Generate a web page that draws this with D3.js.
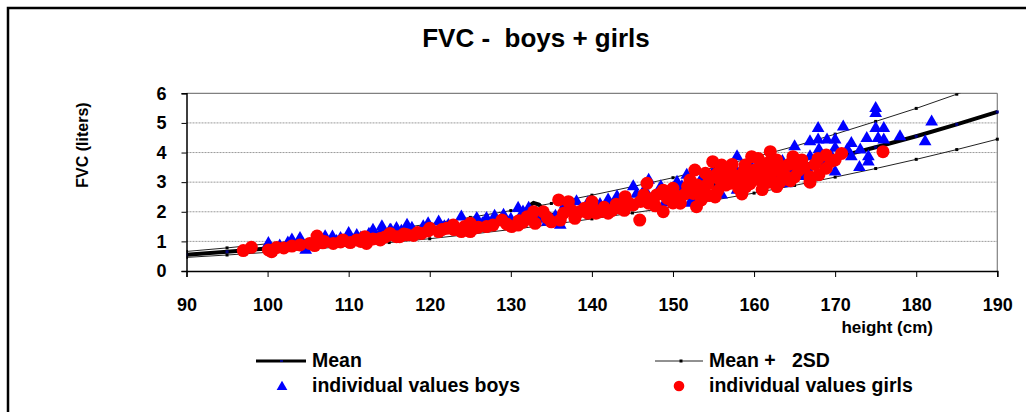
<!DOCTYPE html>
<html><head><meta charset="utf-8">
<script src="https://cdn.jsdelivr.net/npm/d3@7"></script>
<style>
html,body{margin:0;padding:0;background:#fff;}
svg{display:block;font-family:"Liberation Sans",Arial,sans-serif;font-weight:bold;}
text{white-space:pre;}
</style></head>
<body>
<svg id="chart" width="1026" height="412"></svg>
<script>
// ---- data ----
const titleText = "FVC -  boys + girls";
const yTitle = "FVC (liters)";
const xTitle = "height (cm)";
const xTicks = [90,100,110,120,130,140,150,160,170,180,190];
const yTicks = [0,1,2,3,4,5,6];

const sdHeights = [90,95,100,105,110,115,120,125,130,135,140,145,150,155,160,165,170,175,180,185,190];
const upperSD = [0.66,0.78,0.92,1.06,1.22,1.40,1.59,1.81,2.04,2.28,2.56,2.85,3.15,3.49,3.84,4.21,4.62,5.05,5.49,5.97,6.48];
const lowerSD = [0.46,0.54,0.63,0.73,0.84,0.96,1.09,1.24,1.40,1.57,1.76,1.96,2.16,2.39,2.63,2.89,3.17,3.46,3.77,4.10,4.45];

const meanHeights = [90,95,100,105,110,115,120,125,130,131.6,132.2,132.8,133.5,134,135,140,145,150,155,160,165,170,175,180,185,190];
const meanValues  = [0.55,0.65,0.76,0.88,1.01,1.16,1.32,1.50,1.69,1.88,2.18,2.30,2.24,2.05,1.89,2.12,2.36,2.61,2.89,3.18,3.49,3.83,4.18,4.55,4.95,5.37];

const boysHeight = [100.1,101.5,103,104,104.7,105.5,106.5,107.1,108.5,110,110.8,111.5,113,114.1,115.1,115.9,115.2,117.2,118,119.2,120.3,121.1,122.3,123,123.9,124.8,125.8,127,128.3,129.1,130.9,132.2,133.5,134.5,136.1,136.7,138.1,139,140.2,141.2,142,143.1,144,145.1,146,147,148,149,150,151.1,151.7,152.1,152.7,152.9,154.2,154.9,156,157,157.9,157.9,157.9,159,160.3,161,162,163,164,165,165,166,166.9,166.9,167.9,167.9,168.5,169,170,170,170,171,172,172,173.1,173.9,174.1,174.1,175,175,175,175.3,176,176,178,181.1,181.9,
  102.5,106,108,109,111,112.5,114,116.5,117.8,119.8,121.8,126.5,128,130,131.5,133,135.5,137.2,139.5,141,143.8,145.5,146.5,148.5,149.5,150.5,153.5,155.5,156.5,158.5,159.5,161.5,163.5,164.5,166.5,168,169.5,171.5,173];
const boysFVC = [0.93,0.85,1.05,1.10,0.71,0.95,1.02,1.16,1.00,1.27,1.05,1.12,1.38,1.50,1.38,1.44,1.38,1.55,1.33,1.50,1.40,1.66,1.55,1.42,1.83,1.45,1.78,1.78,1.66,1.89,2.12,2.12,1.75,1.65,1.55,2.23,2.34,1.95,2.29,2.05,2.40,2.51,2.20,2.85,2.40,3.07,2.57,2.30,2.79,2.85,3.24,2.29,2.40,2.73,2.51,3.30,2.57,3.00,3.86,3.35,2.73,3.10,3.52,2.90,3.07,3.30,2.95,4.20,3.52,3.20,4.37,3.86,4.82,4.43,3.60,4.43,4.43,4.15,3.35,4.87,4.31,3.86,4.09,4.48,3.86,3.69,5.49,5.32,4.82,4.48,4.82,4.43,4.54,4.37,5.04,
  0.95,1.10,1.15,1.10,1.20,1.25,1.30,1.35,1.45,1.60,1.50,1.60,1.85,1.75,2.00,1.95,1.85,2.10,2.30,2.25,2.45,2.60,2.75,2.85,2.60,3.00,3.10,2.80,3.40,2.90,3.60,3.30,3.70,3.40,3.50,4.10,3.90,4.10,3.50];

const girlsHeight = [97,98,100.1,100.5,101.1,103,105.2,105.8,106.1,107,108.1,109.3,110.2,111,112,112.2,113.9,113.9,115.1,115.1,115.9,116.3,117.2,118,119,120,121.1,122.1,122.9,123.9,124.3,125,125,125.5,127,128.9,130.1,130.9,131.5,132,132.8,133,134,135,135.9,136.1,137.1,137.9,138.5,139.1,140,140,140.5,141,142,142.5,143.5,144.1,144.5,145.1,145.9,146.4,146.8,147,147.5,148,148.8,148.8,149.3,150,150,150.9,150.9,151.5,152.1,152.5,152.7,152.9,153,153.5,153.7,154,154.3,154.9,154.9,155.2,155.5,155.8,156,156.5,156.8,157,157.3,157.5,158.1,158.1,158.5,158.9,159.1,159.5,159.7,159.8,160.1,160.5,160.7,161,161.2,161.6,162,162,162.3,162.8,162.8,162.8,163.2,163.6,164,164.3,164.8,165,165.5,165.9,166.9,166.9,167.9,168.9,168.9,170,170.8,175.9,
  102,104,106.8,109,111.5,113,114.5,116.8,118.5,119.8,121.5,123,124.8,126,127.8,129.5,131,134.5,136.5,137.5,139.5,141.5,143,144,146,147.8,149,150.5,151.8,153.2,154.5,156.2,157.8,158.8,160.3,161.8,163.5,164.5,165.2,166.2,167.5,168,169.5,161,159,155.5];
const girlsFVC = [0.69,0.80,0.71,0.65,0.79,0.84,0.93,0.86,1.18,1.00,0.93,1.05,0.96,1.05,1.16,0.93,1.10,1.05,1.27,1.22,1.16,1.16,1.22,1.20,1.27,1.44,1.33,1.44,1.55,1.33,1.50,1.61,1.33,1.45,1.50,1.72,1.50,1.55,1.65,1.83,2.00,1.61,2.00,1.66,2.40,1.72,2.34,1.78,2.00,2.12,2.17,2.34,1.95,2.00,1.95,2.05,2.12,2.51,2.30,2.23,1.72,2.57,2.96,2.29,2.45,2.57,2.73,2.00,2.45,2.79,2.30,2.29,2.51,2.60,3.07,2.62,3.41,2.17,2.90,2.40,2.73,3.30,2.95,3.69,3.18,2.50,2.70,3.07,3.58,2.90,3.41,2.96,3.60,3.25,3.13,2.79,2.60,3.58,3.18,2.95,3.86,3.30,3.41,3.80,3.07,2.75,3.30,3.64,4.03,3.18,3.55,3.75,2.85,3.41,3.00,3.52,3.18,3.60,3.86,3.18,3.40,3.75,3.18,3.00,3.80,3.92,3.47,3.75,3.97,4.03,
  0.78,0.88,0.95,0.98,1.00,1.08,1.15,1.25,1.30,1.35,1.40,1.40,1.42,1.48,1.55,1.58,1.70,1.80,1.95,2.05,1.95,2.15,2.25,2.05,2.35,2.20,2.60,2.45,2.85,2.60,2.55,3.20,2.95,3.40,3.15,3.00,3.25,3.05,3.60,3.50,3.60,3.25,3.70,3.50,2.85,3.30];

const legendLabels = ["Mean","Mean +   2SD","individual values boys","individual values girls"];

// ---- drawing ----
const svg = d3.select("#chart");
const L = 186.5, R = 997.3, T = 93.3, B = 271;
const x = d3.scaleLinear().domain([90,190]).range([L,R]);
const y = d3.scaleLinear().domain([0,6]).range([B,T]);

// outer frame
svg.append("rect").attr("x",8).attr("y",8).attr("width",1040).attr("height",430)
  .attr("fill","#fff").attr("stroke","#000").attr("stroke-width",2.5);

// title
svg.append("text").attr("x",536).attr("y",47).attr("text-anchor","middle")
  .attr("font-size",26).text(titleText);

// gridlines
svg.append("g").selectAll("line").data(yTicks.filter(d=>d>0 && d<6)).join("line")
  .attr("x1",L).attr("x2",R).attr("y1",d=>y(d)).attr("y2",d=>y(d))
  .attr("stroke","#9a9a9a").attr("stroke-width",1).attr("stroke-dasharray","2,1");
svg.append("line").attr("x1",L).attr("x2",R).attr("y1",T).attr("y2",T).attr("stroke","#808080").attr("stroke-width",1.2);
svg.append("line").attr("x1",R).attr("x2",R).attr("y1",T).attr("y2",B).attr("stroke","#808080").attr("stroke-width",1.2);

// clip
svg.append("clipPath").attr("id","clip").append("rect").attr("x",L).attr("y",T).attr("width",R-L+2).attr("height",B-T);
const plot = svg.append("g").attr("clip-path","url(#clip)");

const line = d3.line().x(d=>x(d[0])).y(d=>y(d[1]));
const upperPts = sdHeights.map((h,i)=>[h,upperSD[i]]);
const lowerPts = sdHeights.map((h,i)=>[h,lowerSD[i]]);
const meanPts = meanHeights.map((h,i)=>[h,meanValues[i]]);

[upperPts,lowerPts].forEach(pts=>{
  plot.append("path").attr("d",line(pts)).attr("fill","none").attr("stroke","#222").attr("stroke-width",1);
  plot.append("g").selectAll("rect").data(pts).join("rect")
    .attr("x",d=>x(d[0])-1.5).attr("y",d=>y(d[1])-1.5).attr("width",3).attr("height",3).attr("fill","#000");
});
plot.append("path").attr("d",line(meanPts)).attr("fill","none").attr("stroke","#000").attr("stroke-width",4).attr("stroke-linejoin","round");
plot.append("g").selectAll("rect").data(sdHeights.map(h=>[h,meanValues[meanHeights.indexOf(h)]])).join("rect")
  .attr("x",d=>x(d[0])-1.5).attr("y",d=>y(d[1])-1.5).attr("width",3).attr("height",3).attr("fill","#000080");

// boys triangles
const tri = d3.symbol().type(d3.symbolTriangle).size(70);
svg.append("g").selectAll("path").data(boysHeight.map((h,i)=>[h,boysFVC[i]])).join("path")
  .attr("d",tri).attr("transform",d=>`translate(${x(d[0])},${y(d[1])})`).attr("fill","#0000ff");
// girls circles
svg.append("g").selectAll("circle").data(girlsHeight.map((h,i)=>[h,girlsFVC[i]])).join("circle")
  .attr("cx",d=>x(d[0])).attr("cy",d=>y(d[1])).attr("r",6.5).attr("fill","#ff0000");

// axes
const yAxis = svg.append("g").attr("transform",`translate(${L},0)`)
  .call(d3.axisLeft(y).tickValues(yTicks).tickSize(5).tickPadding(15).tickFormat(d3.format("d")));
const xAxis = svg.append("g").attr("transform",`translate(0,${B})`)
  .call(d3.axisBottom(x).tickValues(xTicks).tickSize(6).tickPadding(21).tickFormat(d3.format("d")));
[yAxis,xAxis].forEach(a=>{
  a.select(".domain").attr("stroke","#000").attr("stroke-width",1.5);
  a.selectAll(".tick line").attr("stroke","#000").attr("stroke-width",1);
  a.selectAll(".tick text").attr("font-size",18).attr("font-weight","bold").attr("fill","#000")
    .attr("font-family","'Liberation Sans',Arial,sans-serif");
});

// axis titles
svg.append("text").attr("transform","translate(82,145) rotate(-90)").attr("text-anchor","middle")
  .attr("dy","0.35em").attr("font-size",16).text(yTitle);
svg.append("text").attr("x",933).attr("y",333).attr("text-anchor","end").attr("font-size",17).text(xTitle);

// legend
const lg = svg.append("g");
lg.append("line").attr("x1",256).attr("x2",306).attr("y1",361).attr("y2",361).attr("stroke","#000").attr("stroke-width",3);
lg.append("rect").attr("x",280).attr("y",360).attr("width",3).attr("height",2).attr("fill","#000080");
lg.append("line").attr("x1",655).attr("x2",703).attr("y1",361).attr("y2",361).attr("stroke","#222").attr("stroke-width",1);
lg.append("rect").attr("x",679.5).attr("y",359.5).attr("width",3).attr("height",3).attr("fill","#000");
lg.append("path").attr("d",d3.symbol().type(d3.symbolTriangle).size(50)()).attr("transform","translate(282,387)").attr("fill","#0000ff");
lg.append("circle").attr("cx",679).attr("cy",386).attr("r",5.3).attr("fill","#ff0000");
const lpos = [[312,367],[709,367],[312,392],[709,392]];
lg.selectAll("text").data(legendLabels).join("text")
  .attr("x",(d,i)=>lpos[i][0]).attr("y",(d,i)=>lpos[i][1]).attr("font-size",19.5).text(d=>d);
</script>
</body></html>
